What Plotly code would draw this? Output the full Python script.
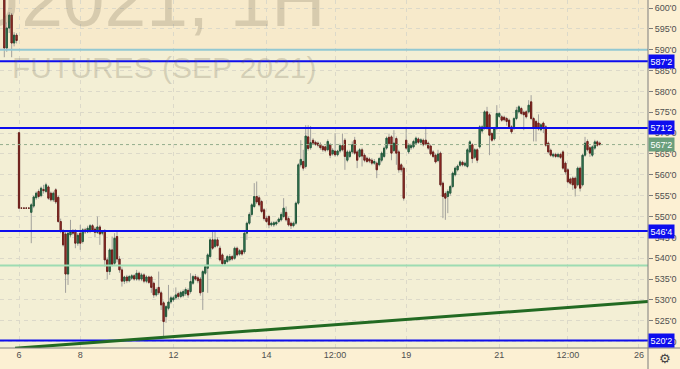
import plotly.graph_objects as go

# ---------------- data (ZCU2021, 1H) ----------------
opens = [
    603.0, 590.4, 595.2, 598.3, 591.6, 593.5, 570.1, 552.0, 552.0, 552.0,
    552.0, 551.0, 552.5, 554.5, 556.0, 555.0, 556.5, 556.0, 557.1, 555.6,
    554.0, 556.4, 554.6, 548.8, 546.4, 545.8, 536.2, 545.6, 546.4, 546.4,
    543.6, 546.0, 544.0, 546.8, 546.3, 546.5, 547.8, 547.0, 546.2, 547.5,
    546.0, 546.5, 539.6, 536.8, 542.0, 538.8, 545.2, 539.8, 537.2, 534.5,
    535.5, 534.6, 535.2, 535.8, 535.0, 536.4, 535.0, 536.0, 534.5, 535.5,
    535.5, 534.0, 531.2, 533.0, 531.7, 529.3, 526.0, 528.0, 529.5, 530.0,
    530.5, 531.5, 530.8, 531.0, 531.5, 532.3, 532.0, 534.0, 535.6, 535.3,
    535.0, 532.0, 536.4, 537.6, 540.4, 544.4, 542.8, 544.4, 542.4, 540.8,
    538.7, 539.2, 539.6, 540.4, 540.0, 542.4, 541.0, 541.8, 541.5, 546.0,
    548.4, 550.5, 552.4, 554.8, 554.5, 553.6, 551.6, 549.6, 550.0, 548.0,
    548.0, 548.2, 548.8, 549.2, 550.0, 551.0, 549.5, 548.4, 547.8, 548.4,
    553.2, 562.4, 563.2, 562.0, 569.1, 566.5, 568.3, 567.8, 567.6, 567.3,
    566.8, 566.7, 566.0, 567.2, 565.0, 565.7, 564.8, 565.7, 567.0, 568.3,
    563.5, 564.4, 565.5, 568.3, 565.5, 564.4, 566.0, 564.7, 564.0, 563.8,
    563.5, 562.8, 562.8, 562.4, 563.5, 564.4, 566.4, 569.0, 569.1, 565.8,
    568.7, 565.5, 562.4, 561.6, 568.3, 565.5, 566.5, 566.7, 567.6, 568.6,
    567.8, 568.3, 568.3, 567.6, 566.9, 565.5, 564.7, 563.4, 565.2, 558.0,
    555.5, 554.8, 555.6, 557.2, 560.0, 561.2, 562.3, 563.0, 562.3, 562.0,
    565.5, 567.2, 564.2, 566.0, 566.7, 570.5, 571.2, 575.1, 574.4, 569.9,
    568.6, 571.1, 574.0, 573.9, 573.8, 573.5, 573.1, 571.5, 571.1, 573.5,
    575.1, 575.9, 575.0, 575.1, 575.1, 577.5, 573.5, 572.8, 572.4, 570.8,
    572.4, 571.5, 567.6, 565.9, 564.5, 564.9, 564.4, 564.9, 565.5, 562.8,
    561.2, 559.0, 559.2, 559.2, 557.6, 561.6, 557.6, 564.7, 568.0, 566.5,
    564.7, 566.4, 567.9, 567.6,
]
highs = [
    604.0, 596.5, 599.0, 598.8, 594.2, 594.0, 570.3, 552.0, 552.0, 552.0,
    552.0, 553.2, 555.0, 556.0, 556.5, 557.2, 557.6, 558.1, 557.5, 556.0,
    556.0, 556.8, 555.0, 549.5, 547.0, 546.5, 546.5, 549.2, 547.0, 547.0,
    546.0, 548.0, 547.2, 547.3, 547.8, 548.2, 548.2, 547.5, 550.0, 548.0,
    546.6, 547.0, 540.2, 542.4, 545.2, 546.0, 546.3, 540.5, 537.8, 535.8,
    536.0, 536.0, 536.2, 536.2, 537.2, 536.8, 536.5, 536.4, 535.9, 535.8,
    535.8, 534.4, 533.0, 536.8, 532.2, 529.8, 528.8, 533.6, 531.0, 531.0,
    533.0, 532.0, 532.2, 532.5, 533.0, 532.8, 536.4, 536.0, 536.2, 535.8,
    535.5, 537.2, 538.5, 541.2, 544.8, 546.4, 546.4, 545.0, 543.0, 541.2,
    540.0, 540.8, 541.0, 540.8, 542.8, 542.8, 542.2, 542.2, 546.5, 548.8,
    551.0, 553.2, 558.0, 558.4, 555.0, 554.0, 552.0, 550.2, 550.4, 548.8,
    548.9, 549.0, 549.8, 551.0, 554.4, 552.4, 550.0, 548.8, 548.8, 553.6,
    562.8, 568.3, 566.0, 571.9, 571.9, 571.7, 568.8, 568.2, 568.0, 567.8,
    567.2, 567.0, 568.5, 567.6, 566.4, 570.0, 566.0, 567.5, 569.9, 568.8,
    566.0, 566.0, 568.0, 569.1, 566.0, 566.4, 566.5, 565.2, 564.4, 564.2,
    564.0, 563.8, 563.2, 564.3, 565.6, 566.8, 569.2, 569.9, 569.5, 570.7,
    569.2, 566.0, 562.8, 562.0, 571.5, 567.6, 567.5, 568.4, 569.2, 569.0,
    568.8, 568.7, 571.5, 568.0, 567.3, 565.9, 565.1, 566.0, 565.6, 558.4,
    556.0, 556.5, 557.6, 560.8, 562.0, 562.5, 563.5, 563.4, 563.2, 566.4,
    568.3, 567.6, 566.4, 566.4, 571.9, 572.0, 575.5, 576.3, 574.8, 570.3,
    571.5, 576.7, 575.1, 574.3, 574.2, 573.9, 573.5, 571.9, 573.9, 576.3,
    576.7, 576.3, 575.4, 575.5, 577.9, 579.1, 573.9, 573.2, 574.5, 572.4,
    572.8, 571.9, 568.0, 566.3, 565.3, 565.3, 565.3, 565.3, 565.9, 563.2,
    561.6, 559.4, 559.6, 559.6, 562.0, 562.0, 565.1, 569.1, 568.5, 566.9,
    567.1, 568.4, 568.3, 568.0,
]
lows = [
    588.2, 589.5, 594.0, 588.2, 590.8, 591.5, 551.8, 552.0, 552.0, 552.0,
    552.0, 543.6, 552.0, 554.0, 554.3, 554.6, 555.5, 555.6, 554.0, 553.6,
    553.5, 553.0, 548.5, 546.0, 542.8, 531.7, 533.6, 545.0, 545.5, 542.4,
    543.0, 542.0, 543.5, 545.8, 546.0, 546.0, 546.3, 545.0, 545.8, 543.2,
    545.5, 538.0, 535.0, 536.0, 538.0, 538.2, 539.0, 536.5, 533.2, 533.8,
    534.0, 534.2, 534.8, 534.6, 534.6, 534.5, 534.5, 534.0, 534.0, 533.8,
    531.7, 530.5, 530.8, 531.2, 527.6, 520.8, 524.5, 527.5, 529.0, 529.5,
    530.0, 530.2, 530.4, 530.6, 531.0, 530.5, 531.5, 533.6, 534.6, 534.0,
    531.0, 527.6, 536.0, 531.7, 540.0, 542.0, 542.4, 542.6, 539.2, 538.2,
    538.2, 538.8, 539.2, 539.4, 539.6, 540.4, 540.6, 540.6, 541.0, 544.4,
    548.0, 550.0, 552.0, 553.0, 552.4, 550.8, 549.0, 548.4, 547.2, 547.6,
    547.5, 547.8, 548.4, 548.8, 549.6, 548.8, 547.6, 547.0, 547.4, 548.0,
    552.8, 561.8, 561.0, 561.5, 565.8, 566.0, 567.2, 566.9, 566.6, 566.0,
    565.5, 565.4, 565.6, 564.0, 564.6, 564.3, 564.4, 565.2, 565.6, 561.2,
    563.0, 564.0, 565.0, 564.8, 561.6, 564.0, 562.0, 563.0, 562.8, 562.8,
    562.3, 562.4, 559.2, 562.0, 563.0, 564.0, 566.0, 567.0, 563.5, 565.4,
    562.4, 560.5, 560.6, 553.8, 566.0, 565.0, 566.0, 566.3, 567.2, 567.4,
    567.4, 566.8, 567.0, 566.0, 564.6, 564.0, 562.7, 563.0, 557.2, 549.6,
    549.2, 550.8, 555.0, 556.8, 559.6, 560.8, 561.9, 562.0, 561.9, 561.6,
    565.1, 562.8, 563.8, 562.8, 566.3, 570.0, 570.8, 570.8, 564.7, 567.9,
    568.2, 570.7, 573.6, 572.7, 572.8, 571.8, 571.1, 569.8, 570.7, 573.1,
    574.7, 574.3, 570.7, 573.5, 574.7, 573.1, 568.0, 568.0, 570.6, 570.4,
    570.0, 566.7, 565.1, 564.3, 564.1, 564.0, 564.0, 563.8, 561.2, 560.0,
    557.9, 557.6, 556.4, 554.8, 557.2, 556.0, 557.2, 564.3, 565.6, 564.3,
    564.3, 566.0, 566.7, 567.0,
]
closes = [
    590.4, 595.2, 598.3, 591.6, 593.5, 592.2, 552.0, 552.0, 552.0, 552.0,
    552.0, 552.8, 554.7, 555.6, 554.8, 556.8, 556.2, 557.6, 554.4, 554.0,
    555.6, 553.5, 548.8, 546.4, 543.2, 536.2, 546.0, 546.4, 546.0, 543.6,
    545.5, 543.6, 546.8, 546.3, 547.2, 547.8, 546.8, 546.2, 547.5, 545.8,
    546.2, 539.6, 536.8, 542.0, 538.5, 544.8, 539.8, 537.2, 534.5, 535.5,
    534.6, 535.6, 535.8, 535.0, 536.4, 535.0, 536.0, 534.5, 535.5, 534.2,
    533.0, 531.2, 532.5, 531.7, 528.8, 524.8, 528.4, 529.5, 530.5, 530.5,
    531.2, 530.8, 531.8, 532.0, 532.5, 531.2, 534.4, 535.6, 535.0, 534.6,
    531.7, 536.8, 538.0, 540.8, 544.4, 542.4, 544.4, 543.0, 539.6, 538.7,
    539.5, 540.4, 540.4, 539.8, 542.4, 540.8, 541.8, 541.0, 546.0, 548.4,
    550.5, 552.8, 554.8, 553.5, 552.8, 551.2, 549.5, 548.8, 548.0, 548.4,
    548.5, 548.6, 549.4, 550.5, 552.0, 549.2, 548.0, 547.8, 548.4, 553.2,
    562.4, 563.7, 561.6, 569.3, 566.3, 567.7, 567.6, 567.3, 567.1, 566.5,
    566.0, 565.9, 568.0, 564.7, 565.9, 564.8, 565.7, 567.0, 566.0, 564.4,
    565.5, 565.5, 567.2, 565.2, 563.5, 566.0, 564.5, 563.5, 563.2, 563.3,
    562.8, 563.2, 561.2, 563.9, 565.2, 566.4, 568.8, 567.5, 565.2, 567.6,
    565.2, 561.2, 561.2, 554.4, 566.4, 567.1, 567.0, 568.0, 568.8, 567.8,
    568.4, 567.2, 567.4, 566.4, 565.0, 564.4, 563.1, 565.0, 557.6, 554.8,
    554.4, 556.0, 557.2, 560.4, 561.6, 562.1, 563.1, 562.4, 562.8, 566.0,
    567.9, 563.9, 566.0, 563.5, 571.5, 571.5, 575.1, 571.2, 569.5, 568.3,
    571.1, 574.7, 574.7, 573.1, 573.2, 572.8, 571.5, 570.3, 573.5, 575.5,
    576.3, 574.7, 574.4, 573.9, 576.7, 573.5, 571.1, 571.1, 571.0, 572.0,
    571.5, 567.1, 565.5, 564.7, 564.9, 564.4, 564.9, 564.2, 561.6, 560.7,
    558.3, 558.0, 557.6, 556.8, 561.6, 556.8, 564.7, 567.6, 566.0, 565.2,
    566.7, 567.9, 567.1, 567.25,
]

day_tick_bars = [6, 31, 69, 107, 135, 164, 202, 230, 259]
day_tick_text = ["6", "8", "12", "14", "12:00", "19", "21", "12:00", "26"]
price_ticks = [520, 525, 530, 535, 540, 545, 550, 555, 560, 565,
               570, 575, 580, 585, 590, 595, 600]
price_tick_text = ["%d'0" % p for p in price_ticks]

blue_levels = [587.25, 571.25, 546.5, 520.25]
blue_labels = ["587'2", "571'2", "546'4", "520'2"]
last_price = 567.25
last_label = "567'2"
zone_level = 590.0
green_level = 538.25
trend_x = [4.4, 262.7]
trend_y = [518.4, 529.6]

X_RANGE = [-1.76, 262.7]
Y_RANGE = [518.47, 601.92]

# ---------------- figure ----------------
x = list(range(len(closes)))
body_hi = [max(o, c) for o, c in zip(opens, closes)]
body_lo = [min(o, c) for o, c in zip(opens, closes)]

fig = go.Figure()

WICK = "#a2a19c"
fig.add_trace(go.Candlestick(
    x=x, open=opens, high=highs, low=lows, close=closes,
    increasing=dict(line=dict(color=WICK, width=1), fillcolor=WICK),
    decreasing=dict(line=dict(color=WICK, width=1), fillcolor=WICK),
    whiskerwidth=0, showlegend=False, hoverinfo="skip",
))
fig.add_trace(go.Candlestick(
    x=x, open=opens, high=body_hi, low=body_lo, close=closes,
    increasing=dict(line=dict(color="#22583a", width=1), fillcolor="#3f9163"),
    decreasing=dict(line=dict(color="#6b1e19", width=1), fillcolor="#b3352c"),
    whiskerwidth=0, showlegend=False, hoverinfo="skip",
))

shapes = []
# peach zone above 590
shapes.append(dict(type="rect", xref="paper", x0=0, x1=1, yref="y",
                   y0=zone_level, y1=Y_RANGE[1] + 5, fillcolor="#f7eacb",
                   line=dict(width=0), layer="below"))
shapes.append(dict(type="line", xref="paper", x0=0, x1=1, yref="y",
                   y0=zone_level, y1=zone_level,
                   line=dict(color="#92c8d2", width=2)))
shapes.append(dict(type="line", xref="paper", x0=0, x1=1, yref="y",
                   y0=green_level, y1=green_level,
                   line=dict(color="#9ddcb2", width=2)))
shapes.append(dict(type="line", xref="paper", x0=0, x1=1, yref="y",
                   y0=last_price, y1=last_price,
                   line=dict(color="#93ad8c", width=1, dash="dot")))
for lv in blue_levels:
    shapes.append(dict(type="line", xref="paper", x0=0, x1=1, yref="y",
                       y0=lv, y1=lv, line=dict(color="#0d0dee", width=2)))
shapes.append(dict(type="line", xref="x", x0=trend_x[0], x1=trend_x[1],
                   yref="y", y0=trend_y[0], y1=trend_y[1],
                   line=dict(color="#226a22", width=3)))
# axis lines extended through the margins
shapes.append(dict(type="line", xref="paper", x0=0, x1=1.06, yref="paper",
                   y0=0, y1=0, line=dict(color="#7d7d7d", width=1)))
shapes.append(dict(type="line", xref="paper", x0=1, x1=1, yref="paper",
                   y0=-0.07, y1=1, line=dict(color="#7d7d7d", width=1)))

annotations = []
WM = "rgba(105,95,75,0.22)"
annotations.append(dict(text="ZCU2021, 1H", xref="paper", yref="paper",
                        x=-0.2083, y=1.0, xanchor="left", yanchor="middle",
                        showarrow=False,
                        font=dict(family="Liberation Sans", size=75, color=WM)))
annotations.append(dict(text="FUTURES (SEP 2021)", xref="paper", yref="paper",
                        x=0.2546, y=0.806, xanchor="center", yanchor="middle",
                        showarrow=False,
                        font=dict(family="Liberation Sans", size=30, color=WM)))
for lv, lab in zip(blue_levels, blue_labels):
    annotations.append(dict(text=lab, xref="paper", x=1, xanchor="left",
                            yref="y", y=lv, yanchor="middle", showarrow=False,
                            bgcolor="#0d0dee", borderpad=1.5,
                            font=dict(family="Liberation Sans", size=9,
                                      color="white")))
annotations.append(dict(text=last_label, xref="paper", x=1, xanchor="left",
                        yref="y", y=last_price, yanchor="middle",
                        showarrow=False, bgcolor="#6a9f7c", borderpad=1.5,
                        font=dict(family="Liberation Sans", size=9,
                                  color="white")))
annotations.append(dict(text="\u2699", xref="paper", x=1.026, xanchor="center",
                        yref="paper", y=-0.03, yanchor="middle",
                        showarrow=False,
                        font=dict(family="DejaVu Sans", size=13,
                                  color="#444444")))

GRID = "#dcd9c9"
fig.update_layout(
    width=680, height=369,
    margin=dict(l=0, r=32, t=0, b=21),
    paper_bgcolor="#fcf0d3",
    plot_bgcolor="#f3efd5",
    shapes=shapes,
    annotations=annotations,
    showlegend=False,
    xaxis=dict(
        range=X_RANGE, tickmode="array", tickvals=day_tick_bars,
        ticktext=day_tick_text, showgrid=True, gridcolor=GRID,
        griddash="4px,4px", gridwidth=1, zeroline=False, showline=False,
        ticks="", tickfont=dict(family="Liberation Sans", size=9,
                                color="#4f4f4f"),
        rangeslider=dict(visible=False), fixedrange=True,
    ),
    yaxis=dict(
        range=Y_RANGE, side="right", tickmode="array", tickvals=price_ticks,
        ticktext=price_tick_text, showgrid=True, gridcolor=GRID,
        griddash="4px,4px", gridwidth=1, zeroline=False, showline=False,
        ticks="outside", ticklen=4, tickcolor="#7d7d7d",
        tickfont=dict(family="Liberation Sans", size=9, color="#4f4f4f"),
        fixedrange=True,
    ),
)

fig.write_html("out.html")
